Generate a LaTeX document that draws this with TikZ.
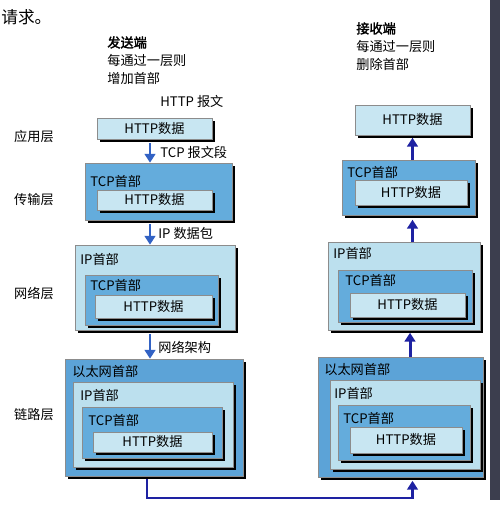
\documentclass[tikz,border=0pt]{standalone}
\usepackage{fontspec}
\setmainfont{Noto Sans CJK SC}[AutoFakeBold=2]
\usetikzlibrary{arrows.meta}
\usetikzlibrary{fit}
\definecolor{httpblue}{HTML}{C8E6F2}
\definecolor{tcpblue}{HTML}{64ACDC}
\definecolor{ipblue}{HTML}{BCE0EE}
\definecolor{ethblue}{HTML}{5CA3D7}
\definecolor{sendblue}{HTML}{3262C4}
\definecolor{recvblue}{HTML}{1E22A2}
\definecolor{gutter}{HTML}{3C3E4E}
\tikzset{
  layer/.style={draw=black!45, line width=0.3pt, inner sep=0pt,
    preaction={fill=black, transform canvas={xshift=1.7pt, yshift=-1.7pt}}},
  httpbox/.style={layer, fill=httpblue},
  tcpbox/.style={layer, fill=tcpblue},
  ipbox/.style={layer, fill=ipblue},
  ethbox/.style={layer, fill=ethblue},
  sendarrow/.style={-{Triangle[length=5pt,width=6pt]}, line width=1.6pt, sendblue},
  recvarrow/.style={-{Triangle[length=5pt,width=6pt]}, line width=1.7pt, recvblue},
}

\begin{document}
\begin{tikzpicture}[x=0.02cm, y=-0.02cm, every node/.style={font=\fontsize{7.5}{10.2}\selectfont}]
    \useasboundingbox (0,0) rectangle (500,519);
    \fill[gutter] (490,0) rectangle (500,500);

    \draw node at (1,17)[name=prev,anchor=west,inner sep=0pt,font=\fontsize{9.5}{12}\selectfont]{请求。};
    \draw node at (107,36)[name=sendHead,anchor=north west,align=left,inner sep=0pt]{{\bfseries 发送端}\\每通过一层则\\增加首部};
    \draw node at (356,22)[name=recvHead,anchor=north west,align=left,inner sep=0pt]{{\bfseries 接收端}\\每通过一层则\\删除首部};

    \draw node at (34,137)[name=lyApp]{应用层};
    \draw node at (34,200)[name=lyTrans]{传输层};
    \draw node at (34,293)[name=lyNet]{网络层};
    \draw node at (34,415)[name=lyLink]{链路层};

    % sender
    \draw node at (160,101)[name=msgHTTP,anchor=west,inner sep=0pt]{HTTP 报文};
    \draw node[fit={(97,118) (212,139)}, name=appS, httpbox]{};
    \draw node at (appS)[name=appSt]{HTTP数据};

    \draw node[fit={(85,163) (232,220)}, name=tcpS, tcpbox]{};
    \draw node at (90,181)[name=tcpS1,anchor=west,inner sep=0pt]{TCP首部};
    \draw node[fit={(97,190) (212,210)}, name=httpS2, httpbox]{};
    \draw node at (httpS2)[name=httpS2t]{HTTP数据};

    \draw node[fit={(75,245) (235,330)}, name=ipS, ipbox]{};
    \draw node at (80,259)[name=ipS1,anchor=west,inner sep=0pt]{IP首部};
    \draw node[fit={(85,275) (218,325)}, name=tcpS3, tcpbox]{};
    \draw node at (90,285)[name=tcpS3l,anchor=west,inner sep=0pt]{TCP首部};
    \draw node[fit={(95,295) (212,318)}, name=httpS3, httpbox]{};
    \draw node at (httpS3)[name=httpS3t]{HTTP数据};

    \draw node[fit={(65,359) (243,476)}, name=ethS, ethbox]{};
    \draw node at (72,372)[name=ethS1,anchor=west,inner sep=0pt]{以太网首部};
    \draw node[fit={(73,382) (233,467)}, name=ipS4, ipbox]{};
    \draw node at (80,395)[name=ipS4l,anchor=west,inner sep=0pt]{IP首部};
    \draw node[fit={(82,407) (222,458)}, name=tcpS4, tcpbox]{};
    \draw node at (88,420)[name=tcpS4l,anchor=west,inner sep=0pt]{TCP首部};
    \draw node[fit={(93,432) (212,452)}, name=httpS4, httpbox]{};
    \draw node at (httpS4)[name=httpS4t]{HTTP数据};

    \draw[sendarrow](appS.south -| 150,0) ++(0,4) -- (tcpS.north -| 150,0);
    \draw node at (160,152)[name=msgTCP,anchor=west,inner sep=0pt]{TCP 报文段};
    \draw[sendarrow](tcpS.south -| 150,0) ++(0,4) -- (ipS.north -| 150,0);
    \draw node at (158,233)[name=msgIP,anchor=west,inner sep=0pt]{IP 数据包};
    \draw[sendarrow](ipS.south -| 150,0) ++(0,4) -- (ethS.north -| 150,0);
    \draw node at (158,347)[name=msgEth,anchor=west,inner sep=0pt]{网络架构};

    % receiver
    \draw node[fit={(355,105) (470,135)}, name=appR, httpbox]{};
    \draw node at (appR)[name=appRt]{HTTP数据};

    \draw node[fit={(342,160) (475,215)}, name=tcpR, tcpbox]{};
    \draw node at (347,172)[name=tcpR1,anchor=west,inner sep=0pt]{TCP首部};
    \draw node[fit={(355,180) (467,205)}, name=httpR2, httpbox]{};
    \draw node at (httpR2)[name=httpR2t]{HTTP数据};

    \draw node[fit={(328,242) (480,330)}, name=ipR, ipbox]{};
    \draw node at (333,253)[name=ipR1,anchor=west,inner sep=0pt]{IP首部};
    \draw node[fit={(338,270) (472,322)}, name=tcpR3, tcpbox]{};
    \draw node at (345,280)[name=tcpR3l,anchor=west,inner sep=0pt]{TCP首部};
    \draw node[fit={(350,293) (465,317)}, name=httpR3, httpbox]{};
    \draw node at (httpR3)[name=httpR3t]{HTTP数据};

    \draw node[fit={(318,357) (483,477)}, name=ethR, ethbox]{};
    \draw node at (324,370)[name=ethR1,anchor=west,inner sep=0pt]{以太网首部};
    \draw node[fit={(330,380) (480,469)}, name=ipR4, ipbox]{};
    \draw node at (334,393)[name=ipR4l,anchor=west,inner sep=0pt]{IP首部};
    \draw node[fit={(338,405) (470,460)}, name=tcpR4, tcpbox]{};
    \draw node at (343,418)[name=tcpR4l,anchor=west,inner sep=0pt]{TCP首部};
    \draw node[fit={(350,427) (462,453)}, name=httpR4, httpbox]{};
    \draw node at (httpR4)[name=httpR4t]{HTTP数据};

    \draw[recvarrow](tcpR.north -| appR.south) -- ++(0,-22);
    \draw[recvarrow](ipR.north -| appR.south) -- ++(0,-22);
    \draw[recvarrow](ethR.north -| 410,0) -- ++(0,-24);

    % link between the two hosts
    \coordinate (bend) at (147,498);
    \draw[recvarrow](ethS.south -| bend) ++(0,3) -- (bend) -| ([yshift=-2]ethR.south -| appR.south);

  \end{tikzpicture}
\end{document}
